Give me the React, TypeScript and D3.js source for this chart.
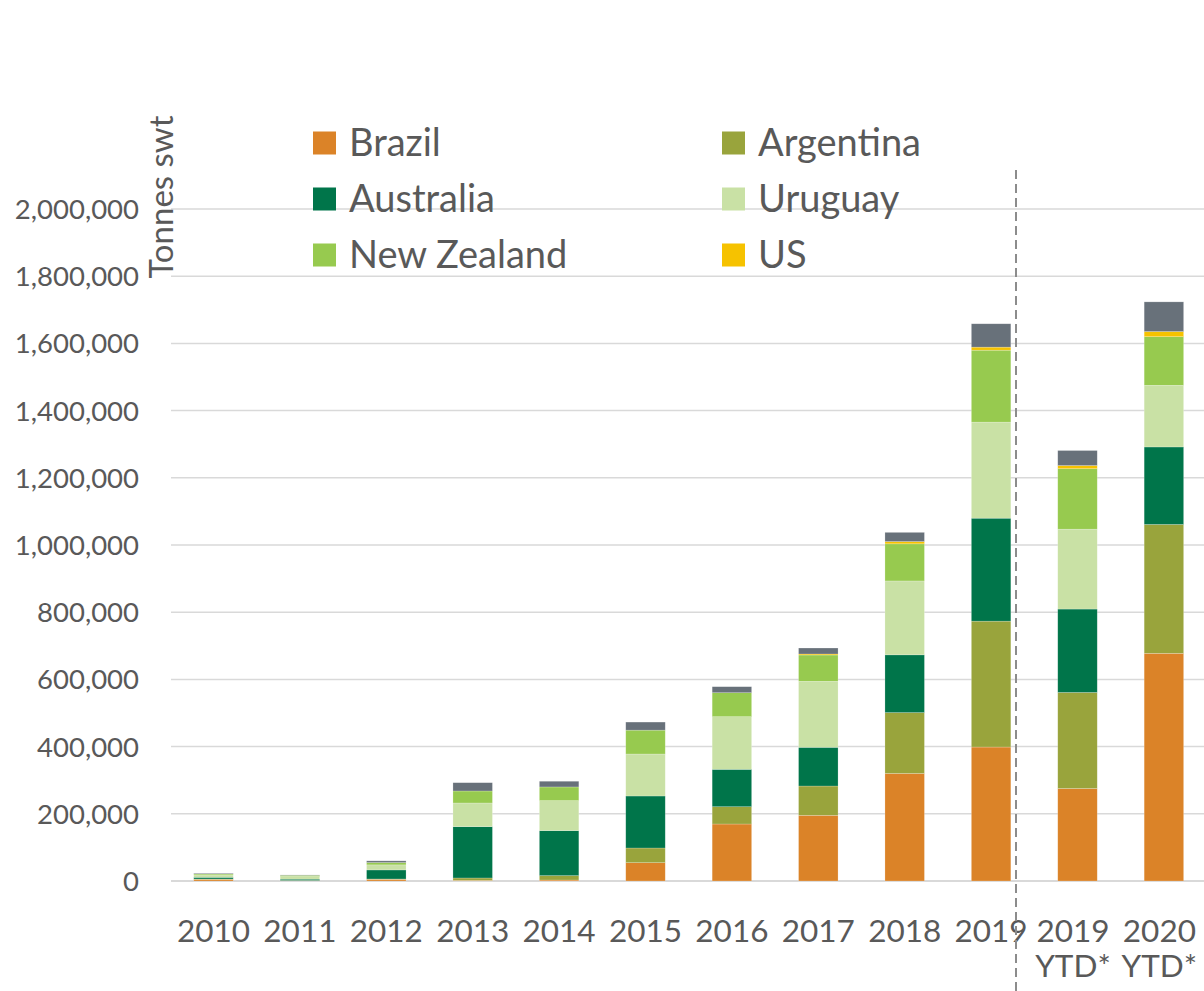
import React from "react";
import * as d3 from "d3";

const categories = ["2010", "2011", "2012", "2013", "2014", "2015", "2016", "2017", "2018", "2019", "2019 YTD*", "2020 YTD*"];
const brazil = [5000, 1000, 5000, 2000, 3000, 54500, 169600, 195500, 320100, 398700, 275300, 677600];
const argentina = [1000, 500, 1000, 7000, 13000, 43700, 51500, 87200, 181100, 374700, 285900, 383600];
const australia = [5000, 4000, 27000, 152700, 133900, 154800, 111300, 115200, 171900, 306400, 248200, 230600];
const uruguay = [7000, 8000, 15000, 70500, 89300, 125000, 156600, 196400, 219900, 285900, 237700, 183500];
const newZealand = [3000, 3500, 7000, 35700, 40700, 71000, 71400, 78300, 110500, 214100, 180000, 144700];
const us = [0, 0, 0, 0, 0, 0, 0, 3000, 6800, 9100, 9400, 15300];
const other = [2000, 1000, 5000, 24700, 17000, 24000, 17900, 17800, 27300, 69500, 44700, 88300];

const seriesNames = ["Brazil", "Argentina", "Australia", "Uruguay", "New Zealand", "US", "Other"];
const seriesColors = ["#DB8328", "#99A43C", "#00754A", "#C9E1A5", "#97CA4F", "#F6C200", "#68717A"];
const seriesValues = [brazil, argentina, australia, uruguay, newZealand, us, other];
const yTicks = [0, 200000, 400000, 600000, 800000, 1000000, 1200000, 1400000, 1600000, 1800000, 2000000];
const legendOrder = ["Brazil", "Argentina", "Australia", "Uruguay", "New Zealand", "US"];

const W = 1204;
const H = 991;
const FONT = "Lato, 'Open Sans', sans-serif";
const TEXT = "#595959";

export default function App() {
  const x = d3.scaleBand<string>().domain(categories).range([170.3, 1207.1]).paddingInner(0.543).paddingOuter(0.2715);
  const y = d3.scaleLinear().domain([0, 2000000]).range([881, 209]);

  const rows = categories.map((c, i) => {
    const r: any = { cat: c };
    seriesNames.forEach((s, j) => (r[s] = seriesValues[j][i]));
    return r;
  });
  const stack = d3.stack<any>().keys(seriesNames)(rows);
  const fmt = d3.format(",");

  return (
    <svg width={W} height={H} style={{ position: "absolute", left: 0, top: 0, background: "#fff" }} fontFamily={FONT}>
      {/* gridlines */}
      {yTicks.map((t) => (
        <line key={t} x1={171} x2={W} y1={y(t)} y2={y(t)} stroke="#D9D9D9" strokeWidth={t === 0 ? 2 : 1.5} />
      ))}
      {/* y tick labels */}
      {yTicks.map((t) => (
        <text key={"l" + t} x={139} y={y(t)} dy="0.36em" textAnchor="end" fontSize={27.5} fill={TEXT}>
          {fmt(t)}
        </text>
      ))}
      {/* y title */}
      <text transform={`translate(173,197) rotate(-90)`} textAnchor="middle" fontSize={33} fill={TEXT}>
        Tonnes swt
      </text>
      {/* bars */}
      {stack.map((layer, j) => (
        <g key={layer.key} fill={seriesColors[j]}>
          {layer.map((d, i) =>
            d[1] - d[0] > 0 ? (
              <rect
                key={i}
                x={x(categories[i])!}
                width={x.bandwidth()}
                y={y(d[1])}
                height={y(d[0]) - y(d[1])}
                stroke="#ffffff"
                strokeOpacity={0.35}
                strokeWidth={0.6}
              />
            ) : null
          )}
        </g>
      ))}
      {/* x labels */}
      {categories.map((c) => {
        const parts = c.split(" ");
        const cx = x(c)! + x.bandwidth() / 2 + (parts.length > 1 ? -4.5 : 0);
        return (
          <text key={c} textAnchor="middle" fontSize={31.5} fill={TEXT}>
            {parts.map((p, k) => (
              <tspan key={k} x={cx} y={942 + k * 35}>
                {p}
              </tspan>
            ))}
          </text>
        );
      })}
      {/* dashed separator */}
      <line x1={1016} x2={1016} y1={170} y2={H} stroke="#8C8C8C" strokeWidth={2} strokeDasharray="9,5" />
      {/* legend */}
      {legendOrder.map((name, k) => {
        const col = k % 2;
        const row = Math.floor(k / 2);
        const lx = col === 0 ? 313 : 722;
        const ly = 143 + row * 56;
        const color = seriesColors[seriesNames.indexOf(name)];
        return (
          <g key={name}>
            <rect x={lx} y={ly - 11.5} width={23} height={23} fill={color} />
            <text x={lx + 36} y={ly} dy="0.35em" fontSize={38} fill={TEXT}>
              {name}
            </text>
          </g>
        );
      })}
    </svg>
  );
}
